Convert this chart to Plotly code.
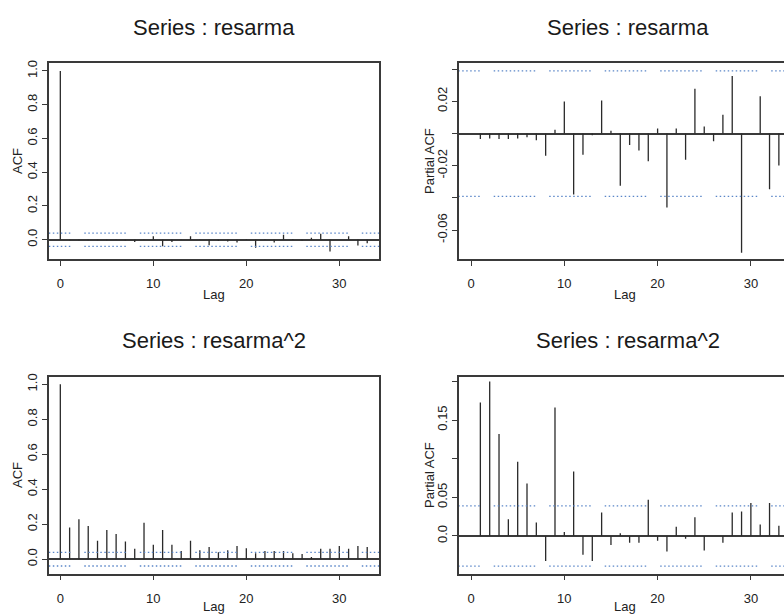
import plotly.graph_objects as go

# ---------------- data ----------------
acf_lags = list(range(0, 34))
acf_resarma = [1.0, -0.003, -0.003, -0.003, -0.003, -0.003, -0.002, -0.004, -0.014, 0.002,
               0.020, -0.038, -0.013, -0.001, 0.021, 0.002, -0.032, -0.007, -0.010, -0.017,
               0.003, -0.048, 0.003, -0.016, 0.030, 0.004, -0.005, 0.012, 0.036, -0.070,
               0.0, 0.020, -0.034, -0.020]

pacf_lags = list(range(1, 34))
pacf_resarma = [-0.0034, -0.0030, -0.0034, -0.0034, -0.0030, -0.0023, -0.0042, -0.0138, 0.0023,
                0.0199, -0.0379, -0.0132, -0.0010, 0.0205, 0.0017, -0.0325, -0.0071, -0.0105,
                -0.0172, 0.0031, -0.0459, 0.0031, -0.0163, 0.0279, 0.0044, -0.0048, 0.0117,
                0.0358, -0.0741, 0.0, 0.0232, -0.0346, -0.0199]

acf_resarma2 = [1.0, 0.181, 0.228, 0.190, 0.106, 0.167, 0.144, 0.101, 0.059, 0.209,
                0.082, 0.167, 0.082, 0.046, 0.106, 0.051, 0.070, 0.040, 0.051, 0.076,
                0.063, 0.034, 0.046, 0.046, 0.046, 0.034, 0.029, 0.013, 0.059, 0.059,
                0.076, 0.059, 0.076, 0.070]

pacf_resarma2 = [0.1727, 0.1997, 0.1320, 0.0218, 0.0959, 0.0680, 0.0174, -0.0323, 0.1660,
                 0.0052, 0.0833, -0.0244, -0.0323, 0.0305, -0.0118, 0.0035, -0.0087, -0.0087,
                 0.0470, -0.0061, -0.0200, 0.0118, -0.0035, 0.0244, -0.0188, 0.0, -0.0087,
                 0.0305, 0.0318, 0.0427, 0.0148, 0.0427, 0.0131]

ci_bound = 0.039

titles = ["Series : resarma", "Series : resarma", "Series : resarma^2", "Series : resarma^2"]
ylabels = ["ACF", "Partial ACF", "ACF", "Partial ACF"]
xlabel = "Lag"

x_ticks = [0, 10, 20, 30]
acf_yticks = [0.0, 0.2, 0.4, 0.6, 0.8, 1.0]
acf_yticktext = ["0.0", "0.2", "0.4", "0.6", "0.8", "1.0"]
pacf1_yticks = [-0.06, -0.04, -0.02, 0.0, 0.02, 0.04]
pacf1_yticktext = ["-0.06", "", "-0.02", "", "0.02", ""]
pacf2_yticks = [0.0, 0.05, 0.10, 0.15, 0.20]
pacf2_yticktext = ["0.0", "0.05", "", "0.15", ""]

# ---------------- style ----------------
FONT = "Liberation Sans, Arial, sans-serif"
BOX = "#3a3a3a"
SPIKE = "#2a2a2a"
CI_COL = "#5a86c8"
W, H = 784, 614

# dotted-group dash: 10 dots then a gap
dash_pat = ",".join(["1.5px,2.5px"] * 10) + ",1.5px,14px"


def spikes(lags, vals):
    xs, ys = [], []
    for k, v in zip(lags, vals):
        xs += [k, k, None]
        ys += [0, v, None]
    return xs, ys


fig = go.Figure()

panels = [
    # (lags, vals, xref, yref, xrange, yrange, ci start)
    (acf_lags, acf_resarma, "x", "y", [-1.25, 34.3], [-0.114, 1.045], -3.39),
    (pacf_lags, pacf_resarma, "x2", "y2", [-1.29, 33.55], [-0.078, 0.0437], -3.52),
    (acf_lags, acf_resarma2, "x3", "y3", [-1.25, 34.3], [-0.082, 1.042], -3.39),
    (pacf_lags, pacf_resarma2, "x4", "y4", [-1.29, 33.55], [-0.0485, 0.2056], -3.52),
]

for lags, vals, xr, yr, xrng, yrng, cstart in panels:
    xs, ys = spikes(lags, vals)
    fig.add_trace(go.Scatter(x=xs, y=ys, mode="lines", xaxis=xr, yaxis=yr,
                             line=dict(color=SPIKE, width=1.3), hoverinfo="skip",
                             showlegend=False))
    for c in (ci_bound, -ci_bound):
        fig.add_trace(go.Scatter(x=[cstart, 40], y=[c, c], mode="lines", xaxis=xr, yaxis=yr,
                                 line=dict(color=CI_COL, width=1.3, dash=dash_pat),
                                 hoverinfo="skip", showlegend=False))


def px_x(a, b):
    return [a / W, min(b / W, 1.0)]


def px_y(top, bottom):
    return [1 - bottom / H, 1 - top / H]


dom = {
    1: (px_x(48.7, 379.3), px_y(63.3, 259)),
    2: (px_x(459, 784), px_y(63.3, 259)),
    3: (px_x(48.7, 379.3), px_y(377, 573.5)),
    4: (px_x(459, 784), px_y(377, 573.5)),
}

layout = dict(
    width=W, height=H, margin=dict(l=0, r=0, t=0, b=0, pad=0, autoexpand=False),
    paper_bgcolor="white", plot_bgcolor="white",
    font=dict(family=FONT, color="#222222", size=13),
    showlegend=False,
)

yticks = {1: (acf_yticks, acf_yticktext), 2: (pacf1_yticks, pacf1_yticktext),
          3: (acf_yticks, acf_yticktext), 4: (pacf2_yticks, pacf2_yticktext)}

for i, (lags, vals, xr, yr, xrng, yrng, cstart) in enumerate(panels, start=1):
    sfx = "" if i == 1 else str(i)
    is_right = i in (2, 4)
    xd, yd = dom[i]
    layout["xaxis" + sfx] = dict(
        domain=xd, anchor="y" + sfx, range=xrng, showgrid=False, zeroline=False,
        showline=True, linecolor=BOX, linewidth=1.5, mirror=True,
        ticks="outside", ticklen=5, tickwidth=1.2, tickcolor=BOX,
        tickvals=x_ticks, ticktext=[str(t) for t in x_ticks],
        tickfont=dict(size=13, family=FONT, color="#222222"), ticklabelstandoff=7,
        automargin=False, fixedrange=True,
    )
    tv, tt = yticks[i]
    layout["yaxis" + sfx] = dict(
        domain=yd, anchor="x" + sfx, range=yrng, showgrid=False,
        zeroline=True, zerolinecolor=BOX, zerolinewidth=1.5,
        showline=True, linecolor=BOX, linewidth=1.5, mirror=(not is_right),
        ticks="outside", ticklen=5, tickwidth=1.2, tickcolor=BOX,
        tickvals=tv, ticktext=tt, tickangle=-90,
        tickfont=dict(size=13, family=FONT, color="#222222"), ticklabelstandoff=0,
        automargin=False, fixedrange=True,
    )

annotations = []
title_pos = [(214, 27), (628, 27), (214, 340), (628, 340)]
ylab_pos = [(17, 161), (429, 161), (17, 475), (429, 475)]
lag_pos = [(214, 294), (625, 294), (214, 606), (625, 606)]
for i in range(4):
    tx, ty = title_pos[i]
    annotations.append(dict(x=tx / W, y=1 - ty / H, xref="paper", yref="paper",
                            text=titles[i], showarrow=False, xanchor="center",
                            yanchor="middle", font=dict(size=22, family=FONT, color="#1a1a1a")))
    lx, ly = ylab_pos[i]
    annotations.append(dict(x=lx / W, y=1 - ly / H, xref="paper", yref="paper",
                            text=ylabels[i], showarrow=False, xanchor="center",
                            yanchor="middle", textangle=-90,
                            font=dict(size=13, family=FONT, color="#222222")))
    gx, gy = lag_pos[i]
    annotations.append(dict(x=gx / W, y=1 - gy / H, xref="paper", yref="paper",
                            text=xlabel, showarrow=False, xanchor="center",
                            yanchor="middle", font=dict(size=13, family=FONT, color="#222222")))
layout["annotations"] = annotations

fig.update_layout(**layout)
fig.write_html("out.html", config={"displayModeBar": False},
               post_script="document.body.style.margin='0px';")
